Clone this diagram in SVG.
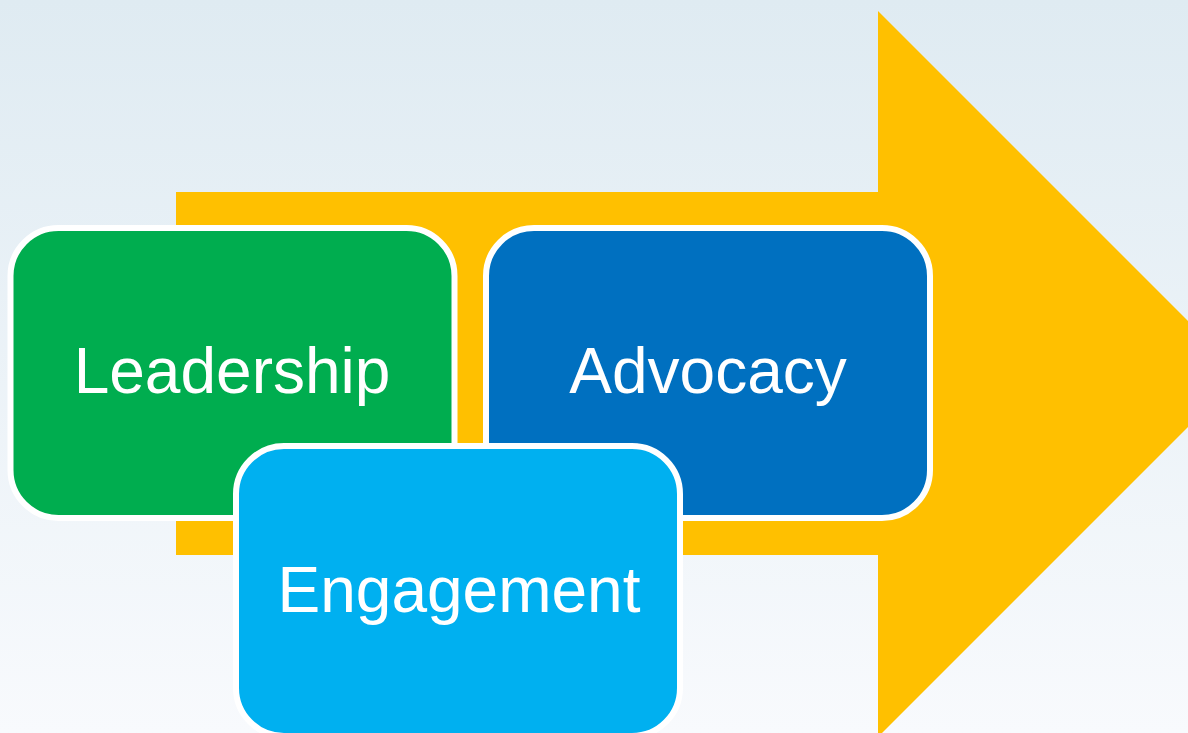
<svg xmlns="http://www.w3.org/2000/svg" width="1188" height="733" viewBox="0 0 1188 733">
<defs>
<linearGradient id="bg" x1="0" y1="0" x2="0" y2="1">
<stop offset="0" stop-color="#dfebf2"/>
<stop offset="1" stop-color="#f8fafd"/>
</linearGradient>
<style>
.box{stroke:#ffffff;stroke-width:6}
.lbl{font-family:"Liberation Sans",Arial,sans-serif;font-size:64px;fill:#ffffff;text-anchor:middle}
</style>
</defs>
<rect x="0" y="0" width="1188" height="733" fill="url(#bg)"/>
<g id="arrow">
<polygon points="176,192 878,192 878,11 1241,374 878,737 878,555 176,555" fill="#ffc000"/>
</g>
<g id="leadership">
<rect class="box" x="10.5" y="228" width="444" height="290" rx="48" fill="#00ad4f"/>
<text class="lbl" x="232" y="393">Leadership</text>
</g>
<g id="advocacy">
<rect class="box" x="486" y="228" width="444" height="290" rx="48" fill="#0070c0"/>
<text class="lbl" x="708" y="393">Advocacy</text>
</g>
<g id="engagement">
<rect class="box" x="236" y="446" width="444" height="290" rx="48" fill="#00b0f0"/>
<text class="lbl" x="459" y="612">Engagement</text>
</g>
<g id="connectors"/>
</svg>
